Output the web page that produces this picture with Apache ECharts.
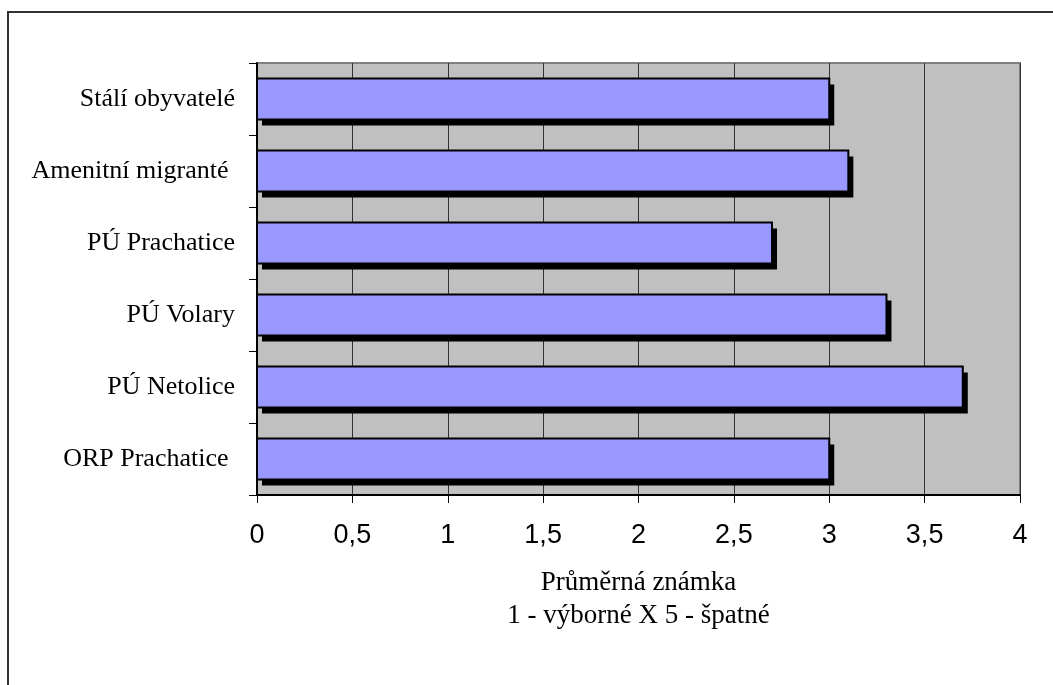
<!DOCTYPE html>
<html>
<head>
<meta charset="utf-8">
<script src="https://cdn.jsdelivr.net/npm/echarts@6/dist/echarts.min.js"></script>
<style>
html,body{margin:0;padding:0;background:#fff;}
#chart{width:1053px;height:685px;}
</style>
</head>
<body>
<div id="chart"></div>
<script>
// Categories listed top to bottom as in the picture
const categories = ['Stálí obyvatelé', 'Amenitní migranté ', 'PÚ Prachatice', 'PÚ Volary', 'PÚ Netolice', 'ORP Prachatice '];
const values = [3.0, 3.1, 2.7, 3.3, 3.7, 3.0];
const xTicks = ['0', '0,5', '1', '1,5', '2', '2,5', '3', '3,5', '4'];
const axisTitle = ['Průměrná známka', '1 - výborné X 5 - špatné'];

const serif = '"Liberation Serif", "Times New Roman", serif';
const sans = '"Liberation Sans", Arial, sans-serif';

const chart = echarts.init(document.getElementById('chart'), null, {renderer: 'canvas'});
chart.setOption({
  animation: false,
  backgroundColor: '#ffffff',
  graphic: [{
    type: 'rect',
    shape: {x: 8, y: 12, width: 1200, height: 800},
    style: {fill: 'none', stroke: '#333333', lineWidth: 2},
    z: 0
  }],
  grid: {
    left: 257, right: 33, top: 63, bottom: 190,
    show: true, backgroundColor: '#C0C0C0', borderColor: '#808080', borderWidth: 2
  },
  xAxis: {
    type: 'value', min: 0, max: 4, interval: 0.5,
    axisLine: {show: true, lineStyle: {color: '#000', width: 2}},
    axisTick: {show: true, length: 8, lineStyle: {color: '#000', width: 1}},
    axisLabel: {
      margin: 27, color: '#000', fontFamily: sans, fontSize: 27,
      formatter: function (v) { return xTicks[Math.round(v * 2)]; }
    },
    splitLine: {show: true, lineStyle: {color: '#333333', width: 1}},
    name: axisTitle.join('\n'),
    nameLocation: 'middle',
    nameGap: 71,
    nameTextStyle: {color: '#000', fontFamily: serif, fontSize: 27, lineHeight: 33}
  },
  yAxis: {
    type: 'category', data: categories, inverse: true,
    axisLine: {show: true, lineStyle: {color: '#000', width: 2}},
    axisTick: {show: true, length: 8, lineStyle: {color: '#000', width: 1}},
    axisLabel: {margin: 22, color: '#000', fontFamily: serif, fontSize: 26}
  },
  series: [{
    type: 'custom',
    data: values.map(function (v, i) { return [v, i]; }),
    encode: {x: 0, y: 1},
    renderItem: function (params, api) {
      const val = api.value(0);
      const idx = api.value(1);
      const start = api.coord([0, idx]);
      const end = api.coord([val, idx]);
      const band = api.size([0, 1])[1];
      const h = band * 0.57;
      const x = start[0];
      const y = start[1] - h / 2;
      const w = end[0] - start[0];
      return {
        type: 'group',
        children: [
          {type: 'rect', shape: {x: x + 5, y: y + 6, width: w, height: h}, style: {fill: '#000'}},
          {type: 'rect', shape: {x: x, y: y, width: w, height: h}, style: {fill: '#9999FF', stroke: '#000', lineWidth: 2}}
        ]
      };
    }
  }]
});
</script>
</body>
</html>
